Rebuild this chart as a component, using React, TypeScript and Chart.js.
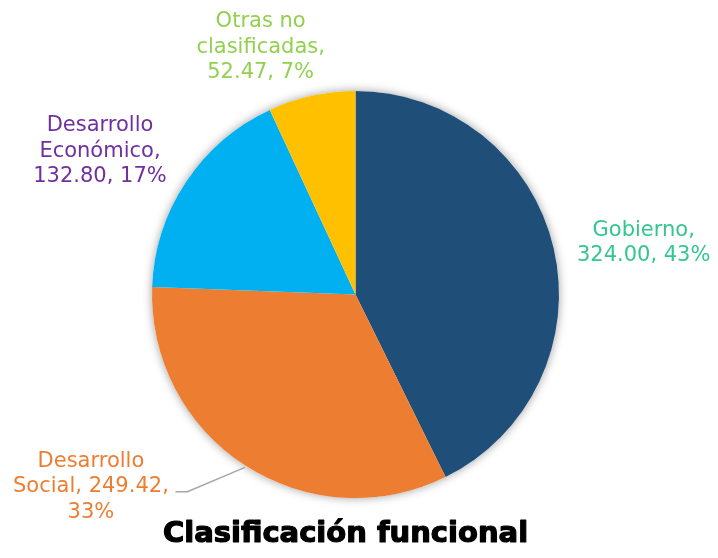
import React, { useEffect, useRef } from 'react';
import { Chart, registerables } from 'chart.js';

Chart.register(...registerables);

const categories = ['Gobierno', 'Desarrollo Social', 'Desarrollo Económico', 'Otras no clasificadas'];
const values = [324.0, 249.42, 132.8, 52.47];
const percentLabels = ['43%', '33%', '17%', '7%'];
const labelLines = [
  ['Gobierno,', '324.00, 43%'],
  ['Desarrollo', 'Social, 249.42,', '33%'],
  ['Desarrollo', 'Económico,', '132.80, 17%'],
  ['Otras no', 'clasificadas,', '52.47, 7%'],
];
const sliceColors = ['#1F4E79', '#ED7D31', '#00B0F0', '#FFC000'];
const labelColors = ['#33C690', '#ED7D31', '#7030A0', '#92D050'];
const chartTitle = 'Clasificación funcional';

// label block offsets (from arc edge at mid-angle to block centre)
const labelOffsets = [
  { dx: 90, dy: 0 },
  { dx: -154, dy: 27 },
  { dx: -86, dy: -25 },
  { dx: -51, dy: -43 },
];

const labelPlugin = {
  id: 'customLabels',
  beforeDatasetsDraw(chart: any) {
    const meta = chart.getDatasetMeta(0);
    const arc = meta.data[0];
    if (!arc) return;
    const ctx = chart.ctx;
    ctx.save();
    ctx.shadowColor = 'rgba(0,0,0,0.38)';
    ctx.shadowBlur = 10;
    ctx.fillStyle = '#ffffff';
    ctx.beginPath();
    ctx.arc(arc.x, arc.y, arc.outerRadius, 0, Math.PI * 2);
    ctx.fill();
    ctx.restore();
  },
  afterDatasetsDraw(chart: any) {
    const ctx = chart.ctx;
    const meta = chart.getDatasetMeta(0);
    const fontSize = 21;
    const lh = 25.5;
    ctx.save();
    ctx.font = `${fontSize}px "DejaVu Sans", sans-serif`;
    ctx.textAlign = 'center';
    ctx.textBaseline = 'alphabetic';
    meta.data.forEach((el: any, i: number) => {
      const mid = (el.startAngle + el.endAngle) / 2;
      const ex = el.x + Math.cos(mid) * el.outerRadius;
      const ey = el.y + Math.sin(mid) * el.outerRadius;
      const cx = ex + labelOffsets[i].dx;
      const cy = ey + labelOffsets[i].dy;
      const lines = labelLines[i];
      const n = lines.length;
      ctx.fillStyle = labelColors[i];
      lines.forEach((ln, k) => {
        ctx.fillText(ln, cx, cy + (k - (n - 1) / 2) * lh);
      });
      if (i === 1) {
        ctx.strokeStyle = '#A6A6A6';
        ctx.lineWidth = 1.5;
        ctx.beginPath();
        ctx.moveTo(ex, ey + 2);
        ctx.lineTo(cx + 96.5, cy - 0.7);
        ctx.lineTo(cx + 84.5, cy - 0.7);
        ctx.stroke();
      }
    });
    ctx.fillStyle = '#000000';
    ctx.strokeStyle = '#000000';
    ctx.lineWidth = 1.2;
    ctx.lineJoin = 'round';
    ctx.font = `bold 29px "DejaVu Sans", sans-serif`;
    ctx.textAlign = 'center';
    ctx.fillText(chartTitle, 345.5, 542);
    ctx.strokeText(chartTitle, 345.5, 542);
    ctx.restore();
  },
};

export default function App() {
  const ref = useRef<HTMLCanvasElement>(null);
  useEffect(() => {
    if (!ref.current) return;
    const chart = new Chart(ref.current, {
      type: 'pie',
      data: {
        labels: categories,
        datasets: [
          {
            data: values,
            backgroundColor: sliceColors,
            borderWidth: 0,
          },
        ],
      },
      options: {
        responsive: false,
        maintainAspectRatio: false,
        animation: false,
        layout: { padding: { top: 91, bottom: 60, left: 152, right: 159 } },
        plugins: {
          legend: { display: false },
          tooltip: { enabled: false },
          title: { display: false },
        },
      },
      plugins: [labelPlugin],
    });
    return () => chart.destroy();
  }, []);
  return (
    <div style={{ position: 'absolute', left: 0, top: 0, width: 718, height: 558, background: '#fff' }}>
      <canvas ref={ref} width={718} height={558} />
    </div>
  );
}
